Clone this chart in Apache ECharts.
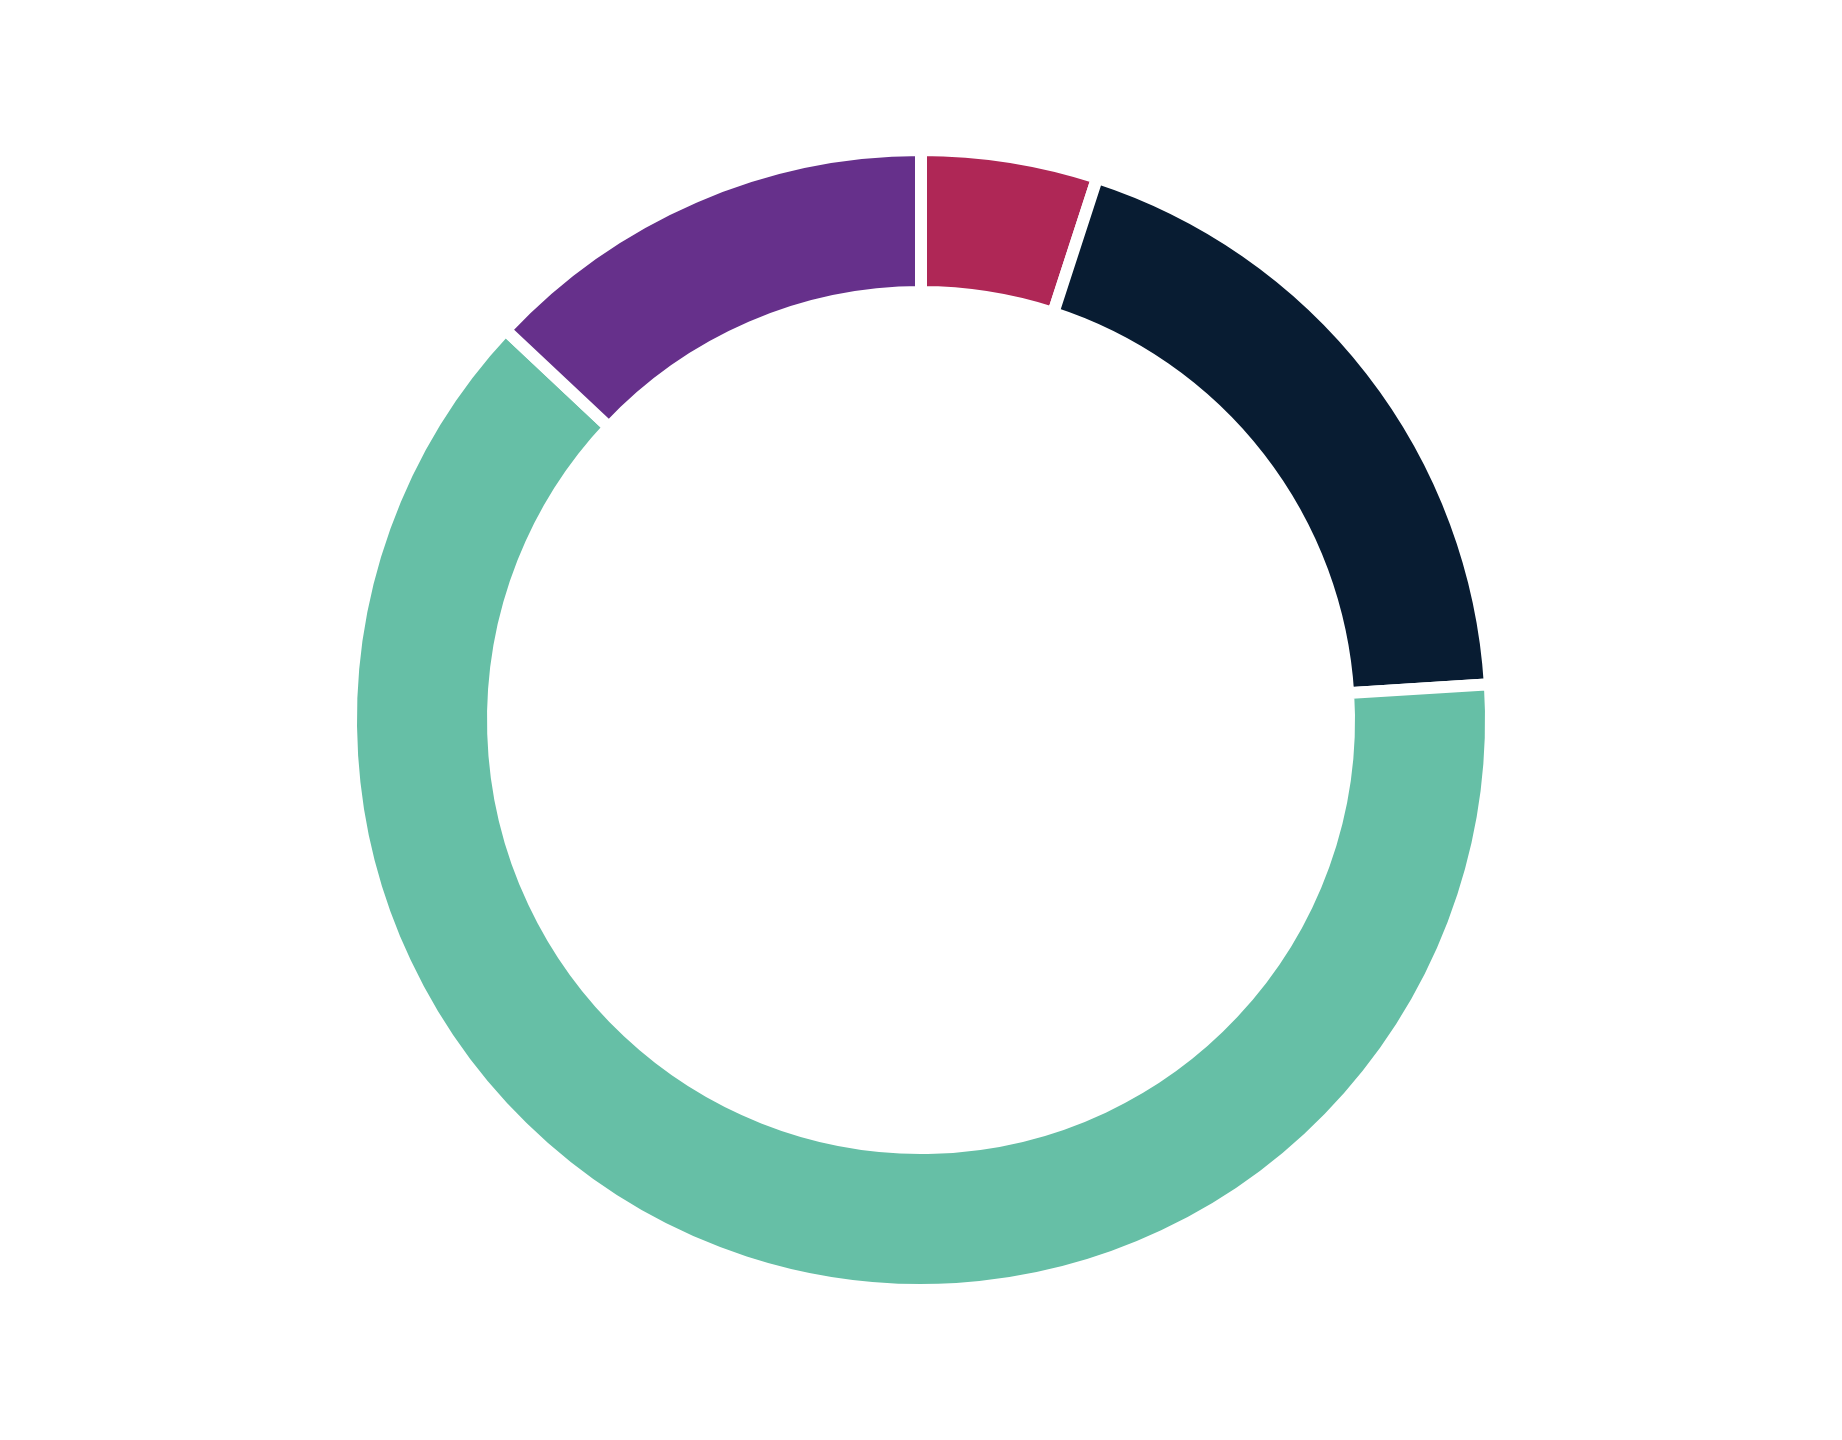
<!DOCTYPE html>
<html>
<head>
<meta charset="utf-8">
<script src="https://cdn.jsdelivr.net/npm/echarts@6/dist/echarts.min.js"></script>
<style>
  html, body { margin: 0; padding: 0; background: #ffffff; }
  #chart { width: 1842px; height: 1440px; }
</style>
</head>
<body>
<div id="chart"></div>
<script>
const categories = ['A', 'B', 'C', 'D'];
const values = [5, 19, 63, 13];
const colors = ['#AF2756', '#081C32', '#66BFA6', '#66308B'];

const chart = echarts.init(document.getElementById('chart'), null, { renderer: 'canvas' });
chart.setOption({
  backgroundColor: '#ffffff',
  animation: false,
  series: [{
    type: 'pie',
    center: ['50%', '50%'],
    radius: [428, 570],
    startAngle: 90,
    clockwise: true,
    label: { show: false },
    labelLine: { show: false },
    emphasis: { disabled: true },
    itemStyle: { borderColor: '#ffffff', borderWidth: 12, borderJoin: 'round' },
    data: categories.map((c, i) => ({ name: c, value: values[i], itemStyle: { color: colors[i] } }))
  }]
});
</script>
</body>
</html>
